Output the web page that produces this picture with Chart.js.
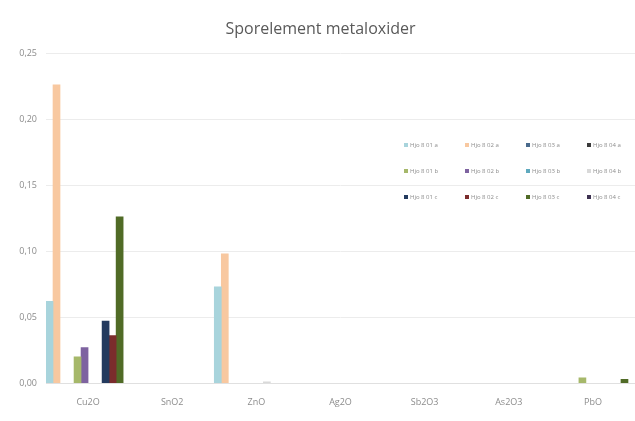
<!DOCTYPE html>
<html>
<head>
<meta charset="utf-8">
<script src="https://cdn.jsdelivr.net/npm/chart.js@4/dist/chart.umd.min.js"></script>
<style>
  html, body { margin: 0; padding: 0; background: #fff; }
  #wrap { width: 635px; height: 421px; }
</style>
</head>
<body>
<div id="wrap"><canvas id="oxChart"></canvas></div>
<script>
// Sporelement metaloxider — grouped bars, 12 samples per oxide

const oxides = ['Cu2O', 'SnO2', 'ZnO', 'Ag2O', 'Sb2O3', 'As2O3', 'PbO'];
const yTicks = [0, 0.05, 0.10, 0.15, 0.20, 0.25];

const sampleNames = [
  'Hjo 8 01 a', 'Hjo 8 02 a', 'Hjo 8 03 a', 'Hjo 8 04 a',
  'Hjo 8 01 b', 'Hjo 8 02 b', 'Hjo 8 03 b', 'Hjo 8 04 b',
  'Hjo 8 01 c', 'Hjo 8 02 c', 'Hjo 8 03 c', 'Hjo 8 04 c'
];
const sampleColors = [
  '#A8D4DC', '#F8C8A0', '#4A6A8C', '#3A3A3A',
  '#A6B86A', '#7E63A0', '#5FA9BE', '#D9D9D9',
  '#233A5E', '#7B2C2C', '#506B26', '#3D3150'
];

// values per sample, in oxide order (null = not detected)
const s01a = [0.062, null, 0.073, null, null, null, null];
const s02a = [0.226, null, 0.098, null, null, null, null];
const s03a = [null, null, null, null, null, null, null];
const s04a = [null, null, null, null, null, null, null];
const s01b = [0.020, null, null, null, null, null, 0.004];
const s02b = [0.027, null, null, null, null, null, null];
const s03b = [null, null, null, null, null, null, null];
const s04b = [null, null, 0.001, null, null, null, null];
const s01c = [0.047, null, null, null, null, null, null];
const s02c = [0.036, null, null, null, null, null, null];
const s03c = [0.126, null, null, null, null, null, 0.003];
const s04c = [null, null, null, null, null, null, null];
const seriesValues = [s01a, s02a, s03a, s04a, s01b, s02b, s03b, s04b, s01c, s02c, s03c, s04c];

const comma = v => v.toFixed(2).replace('.', ',');

// legend sits inside the plot, 3 rows x 4 columns, cut at the right edge
const innerLegend = {
  id: 'innerLegend',
  afterDraw(chart) {
    const ctx = chart.ctx;
    ctx.save();
    ctx.font = '6px "Open Sans"';
    ctx.textBaseline = 'middle';
    chart.data.datasets.forEach((ds, i) => {
      const x = 406 + (i % 4) * 61;
      const y = 145 + Math.floor(i / 4) * 26;
      ctx.fillStyle = ds.backgroundColor;
      ctx.fillRect(x - 2, y - 2, 4, 4);
      ctx.fillStyle = '#8c8c8c';
      ctx.fillText(ds.label, x + 4, y);
    });
    ctx.restore();
  }
};

new Chart(document.getElementById('oxChart'), {
  type: 'bar',
  data: {
    labels: oxides,
    datasets: seriesValues.map((vals, i) => ({
      label: sampleNames[i],
      data: vals,
      backgroundColor: sampleColors[i],
      borderWidth: 0,
      categoryPercentage: 1.0,
      barPercentage: 1.0,
    }))
  },
  options: {
    responsive: true, maintainAspectRatio: false, animation: false,
    layout: { padding: { left: 6, right: 0, top: 0, bottom: 7 } },
    plugins: {
      legend: { display: false },
      tooltip: { enabled: false },
      title: {
        display: true, text: 'Sporelement metaloxider', color: '#595959',
        font: { family: 'Open Sans', size: 16, weight: 'normal' },
        padding: { top: 20, bottom: 14 }
      }
    },
    scales: {
      y: {
        min: 0, max: 0.25,
        afterBuildTicks: axis => { axis.ticks = yTicks.map(v => ({ value: v })); },
        afterFit: axis => { axis.width = 40; },
        grid: { color: '#ececec', drawTicks: false },
        border: { display: false },
        ticks: { color: '#8c8c8c', padding: 9, font: { family: 'Open Sans', size: 9 }, callback: v => comma(v) }
      },
      x: {
        grid: { display: false },
        border: { color: '#e0e0e0' },
        ticks: { color: '#8c8c8c', padding: 6, font: { family: 'Open Sans', size: 9 } }
      }
    }
  },
  plugins: [innerLegend]
});
</script>
</body>
</html>
